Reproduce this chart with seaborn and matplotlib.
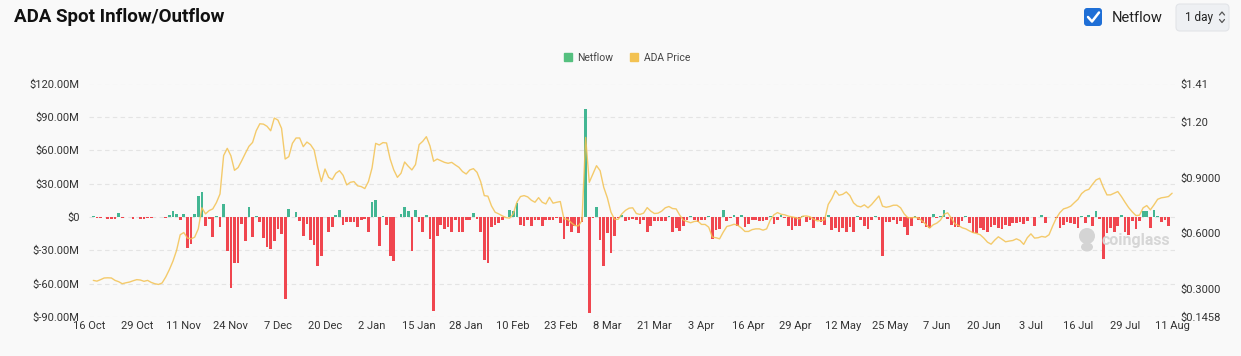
import numpy as np
import pandas as pd
import seaborn as sns
import matplotlib.pyplot as plt
from matplotlib.patches import Patch, FancyBboxPatch, Circle, Ellipse

# daily ADA spot netflow (USD millions), first bar = 17 Oct 2024
netflow_m = [
    # 17 Oct - 22 Nov
    1, -1, -1, -0.3, -2, -2, -2, 3.6, -1, -0.3, -0.3, -1.5, 0.2, -2, -1.5, -1, -1, 0.2, -0.3,
    -0.5, -1, 2, 5, 3, -3, 3, -28, -24, 3, 19, 22, -8.4, -2, -18, 1, -9, 11.5,
    # 23 Nov - 29 Dec
    -31, -64, -41, -41, -6, -22, 9, -18, 1, -5, -19, -27, -28.5, -22, -11, -15, -74, 7, -0.5,
    4.5, -4, -17, -6, -21, -25, -44, -35, -0.3, -14, -9, 1.5, 6, -7.5, -5, -5, -4.5, -9,
    # 30 Dec - 4 Feb
    -2.5, -2, -13.5, 13.5, 15.6, -26, 0.5, -7.5, -35, -40, -0.5, 2.7, 8.7, 5.7, -31, 6.6, -5,
    -14, 2, -20, -85, -17, -7.5, -11, -9, -14, -2.5, -13.5, -13.5, -3, -3, 3.6, -2, -14, -39, -41, -9,
    # 5 Feb - 14 Mar
    -7.5, -5.4, -3, -0.5, 6.6, 5, 12.6, -7.5, -8.4, -3, -8.4, -2.4, -2.4, -8.4, -3, -3, -3, -1, -5.4,
    -20, -8.4, -14, -8, -14.4, -5, 97.5, -86, -1, 9, -21, -44, -14.4, -32, -17, -1, 2, -3.6, -3,
    # 15 Mar - 20 Apr
    -2, -3, -6, -3, -14, -8, -4, -4, -4, -4, 1, -14, -10, -13, -8, -3, 0.5, -3, -5, -2.4, -2.4,
    1.2, -20, -11.4, -10.5, 6.6, -4, -1, 1.8, -8, 1.8, -9, -6, -3, -2.4, -4, -3.5,
    # 21 Apr - 27 May
    -3, 1, -6, -3, 1.5, -1, -8, -12, -8, -8, 1.2, -5, -2.4, -10, -2.4, -5, -7, 1.5, -12, -10, -14,
    -10, -14, -9, -13.5, 1.2, -2.4, -8.4, -10.5, -2.4, 1.2, -2.4, -35, -5, -5, -3, -6,
    # 28 May - 4 Jul
    -4, -9, -16.5, -8, 1.2, -2.4, -5.4, -9, -10, 2.4, -1, 1.2, 6.6, -2, -7, -9, -9, -4, 0.5, -5.4,
    -14.4, -14.4, -10, -11.4, -13.5, -9, -7, -10, -11, -7, -8, -5.4, -5.4, -5, -6, -4, -0.5, -8.4,
    # 5 Jul - 11 Aug
    -0.3, 1.8, -5.4, -0.3, -0.5, -1, -10, -7, -5, -5.4, -6, -10, 1.2, -5.4, 1.8, -8, 5.7, -2, -38,
    -14.4, -10, -14, -8.4, 1.5, -14, -16, -4, -11, -4, 5, 5, -10, 6, 1.2, -5, -3, -8.4, 0,
]

# ADA price (USD), same days
price_usd = [
    0.344, 0.340, 0.348, 0.357, 0.358, 0.357, 0.344, 0.337, 0.326, 0.331, 0.335, 0.342, 0.348,
    0.346, 0.339, 0.344, 0.333, 0.326, 0.322, 0.330, 0.362, 0.402, 0.448, 0.506, 0.591, 0.603,
    0.573, 0.569, 0.578, 0.623, 0.737, 0.704, 0.722, 0.731, 0.765, 0.812, 1.020,
    1.059, 1.019, 0.940, 0.955, 0.992, 1.032, 1.070, 1.091, 1.154, 1.192, 1.190, 1.178, 1.154,
    1.223, 1.212, 1.167, 1.001, 1.014, 1.086, 1.115, 1.115, 1.068, 1.093, 1.079, 1.050, 0.956,
    0.879, 0.947, 0.902, 0.890, 0.924, 0.938, 0.913, 0.861, 0.875, 0.879, 0.856,
    0.852, 0.841, 0.879, 0.953, 1.086, 1.077, 1.090, 1.088, 1.001, 0.942, 0.902, 0.924, 0.985,
    0.962, 0.942, 0.971, 1.079, 1.097, 1.122, 1.072, 0.989, 1.001, 0.992, 0.983, 0.978, 0.983,
    0.969, 0.956, 0.933, 0.920, 0.942, 0.949, 0.929, 0.879, 0.803, 0.800, 0.747,
    0.713, 0.704, 0.693, 0.684, 0.681, 0.704, 0.767, 0.798, 0.803, 0.796, 0.778, 0.767, 0.792,
    0.767, 0.758, 0.794, 0.762, 0.767, 0.771, 0.677, 0.675, 0.657, 0.641, 0.639, 0.668, 1.118,
    0.875, 0.920, 0.965, 0.938, 0.848, 0.791, 0.713, 0.674, 0.675, 0.704, 0.723, 0.735,
    0.737, 0.706, 0.701, 0.708, 0.738, 0.719, 0.706, 0.708, 0.719, 0.737, 0.744, 0.733, 0.731,
    0.697, 0.670, 0.663, 0.656, 0.663, 0.665, 0.647, 0.647, 0.632, 0.578, 0.575, 0.569, 0.605,
    0.636, 0.641, 0.648, 0.643, 0.628, 0.609, 0.609, 0.619, 0.623, 0.623, 0.616,
    0.623, 0.670, 0.699, 0.711, 0.702, 0.699, 0.692, 0.688, 0.684, 0.677, 0.692, 0.693, 0.688,
    0.675, 0.666, 0.668, 0.672, 0.755, 0.787, 0.830, 0.805, 0.810, 0.823, 0.803, 0.764, 0.747,
    0.742, 0.753, 0.737, 0.755, 0.778, 0.801, 0.746, 0.740, 0.744, 0.751, 0.751,
    0.737, 0.704, 0.683, 0.683, 0.686, 0.681, 0.665, 0.647, 0.627, 0.645, 0.654, 0.670, 0.702,
    0.710, 0.681, 0.650, 0.641, 0.629, 0.623, 0.612, 0.603, 0.598, 0.591, 0.573, 0.551, 0.540,
    0.562, 0.580, 0.567, 0.553, 0.557, 0.560, 0.569, 0.560, 0.539, 0.575, 0.596, 0.573,
    0.575, 0.582, 0.578, 0.591, 0.638, 0.681, 0.711, 0.731, 0.737, 0.746, 0.765, 0.783, 0.814,
    0.830, 0.837, 0.864, 0.888, 0.897, 0.848, 0.807, 0.807, 0.816, 0.825, 0.798, 0.767, 0.738,
    0.715, 0.695, 0.697, 0.737, 0.749, 0.726, 0.753, 0.783, 0.791, 0.794, 0.798, 0.816,
]

first_day = "2024-10-17"
axis_start = "2024-10-16"
tick_step_days = 13
n_ticks = 24

left_ticks = [-90, -60, -30, 0, 30, 60, 90, 120]
right_ticks = [0.1458, 0.3, 0.6, 0.9, 1.2, 1.41]
right_labels = ["$0.1458", "$0.3000", "$0.6000", "$0.9000", "$1.20", "$1.41"]

GREEN = "#43b693"
RED = "#f0464f"
GOLD = "#f3c252"
BG = "#f9f9f9"

assert len(netflow_m) == len(price_usd)

dates = pd.date_range(first_day, periods=len(netflow_m), freq="D")
start = pd.Timestamp(axis_start)
df = pd.DataFrame({
    "day": (dates - start).days,
    "netflow": netflow_m,
    "price": price_usd,
})
df["side"] = np.where(df["netflow"] >= 0, "in", "out")

sns.set_style("white")
plt.rcParams["font.family"] = ["Roboto", "DejaVu Sans"]

fig = plt.figure(figsize=(12.41, 3.56), dpi=100, facecolor=BG)
ax = fig.add_axes([88.6 / 1241, 1 - 317 / 356, 1086.4 / 1241, 233.5 / 356])
ax.set_facecolor(BG)

sns.barplot(data=df, x="day", y="netflow", hue="side", palette={"in": GREEN, "out": RED},
            native_scale=True, dodge=False, width=0.75, saturation=1, errorbar=None,
            legend=False, ax=ax, zorder=2, linewidth=0, edgecolor="none")

ax.set_ylim(-90, 120)
ax.set_xlim(-0.3, 299.8)
ax.set_yticks(left_ticks)
ax.set_yticklabels(["$0" if v == 0 else f"${v:.2f}M" for v in left_ticks])
tick_dates = pd.date_range(axis_start, periods=n_ticks, freq=f"{tick_step_days}D")
ax.set_xticks((tick_dates - start).days)
ax.set_xticklabels([f"{d.day} {d.strftime('%b')}" for d in tick_dates])
ax.set_xlabel("")
ax.set_ylabel("")
for v in left_ticks:
    ax.axhline(v, color="#e4e4e4", lw=0.8, ls=(0, (4, 3)), zorder=0)
ax.tick_params(axis="y", length=0, pad=6.5, labelsize=8, labelcolor="#333333")
ax.tick_params(axis="x", length=0, pad=3, labelsize=8, labelcolor="#333333")
sns.despine(ax=ax, left=True, bottom=True)

ax2 = ax.twinx()
sns.lineplot(data=df, x="day", y="price", ax=ax2, color=GOLD, lw=1.0, alpha=0.85)
ax2.set_ylim(0.1458, 1.41)
ax2.set_yticks(right_ticks)
ax2.set_yticklabels(right_labels)
ax2.set_ylabel("")
ax2.set_xlim(-0.3, 299.8)
ax2.tick_params(axis="y", length=0, pad=4, labelsize=8, labelcolor="#333333")
sns.despine(ax=ax2, left=True, bottom=True, right=True)

# legend
handles = [Patch(color="#55c07f", label="Netflow"), Patch(color=GOLD, label="ADA Price")]
fig.legend(handles=handles, loc="center", bbox_to_anchor=(627 / 1241, 1 - 58 / 356), ncol=2,
           frameon=False, fontsize=7.5, handlelength=0.8, handleheight=0.8,
           handletextpad=0.5, columnspacing=1.6, labelcolor="#444444")

# header / decorations in pixel coordinates
ov = fig.add_axes([0, 0, 1, 1], zorder=5)
ov.set_xlim(0, 1241)
ov.set_ylim(356, 0)
ov.axis("off")
ov.text(14, 17, "ADA Spot Inflow/Outflow", fontsize=13.5, fontweight="bold",
        va="center", ha="left", color="#111111")
ov.add_patch(FancyBboxPatch((1084, 8), 18, 18, boxstyle="round,pad=0,rounding_size=3",
                            fc="#1f6fd6", ec="none"))
ov.plot([1088, 1092, 1099], [17, 21.5, 12.5], color="white", lw=1.8, solid_capstyle="round")
ov.text(1112, 17.5, "Netflow", fontsize=10.5, va="center", ha="left", color="#222222")
ov.add_patch(FancyBboxPatch((1176, 4), 53, 27, boxstyle="round,pad=0,rounding_size=4",
                            fc="#eef0f3", ec="#e2e4e8", lw=0.8))
ov.text(1185, 17.5, "1 day", fontsize=8.5, va="center", ha="left", color="#222222")
ov.plot([1219.5, 1222, 1224.5], [15, 12, 15], color="#555555", lw=0.9)
ov.plot([1219.5, 1222, 1224.5], [19.5, 22.5, 19.5], color="#555555", lw=0.9)

# watermark
ov.add_patch(Circle((1087, 236), 8, fc="#d4d4d4", ec="none"))
ov.add_patch(Ellipse((1087, 247), 12, 9, fc="#d4d4d4", ec="none"))
ov.text(1101, 241, "coinglass", fontsize=11.5, fontweight="bold", va="center", ha="left",
        color="#d6d6d6")

fig.savefig("out.png", dpi=100, facecolor=BG)
